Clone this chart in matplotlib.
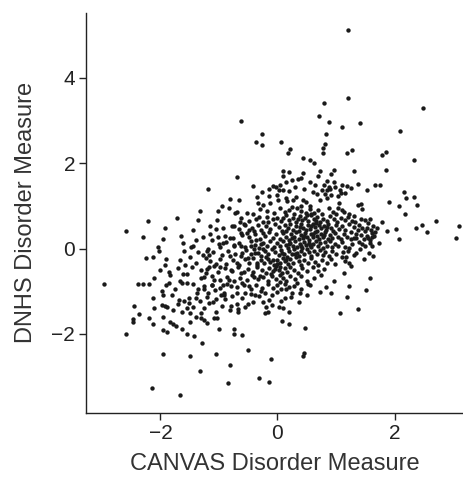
import numpy as np
import matplotlib.pyplot as plt

# CANVAS (x) vs DNHS (y) disorder measures

# sparse points above the main cloud
upper_pts = [
    (1.21, 5.11), (1.20, 3.52), (2.49, 3.29), (0.79, 3.40), (-0.62, 2.99), (0.71, 3.11),
    (0.88, 2.96), (1.41, 2.93), (1.10, 2.85), (-0.26, 2.68), (0.83, 2.68), (2.10, 2.75),
    (-0.37, 2.50), (-0.27, 2.43), (0.06, 2.50), (0.81, 2.46), (0.77, 2.35), (1.28, 2.32),
    (0.21, 2.33), (0.18, 2.24), (1.19, 2.24), (0.78, 2.24), (1.86, 2.25), (1.79, 2.19),
    (0.44, 2.13), (2.34, 2.07), (0.56, 2.07), (0.62, 2.00), (1.86, 1.84), (1.31, 1.82),
    (0.09, 1.82), (0.19, 1.80), (0.43, 1.78), (0.73, 1.82), (0.97, 1.85), (0.92, 1.75),
    (-0.70, 1.67), (0.25, 1.61), (0.35, 1.63), (0.15, 1.55), (1.38, 1.52), (1.66, 1.50),
    (1.75, 1.50), (1.19, 1.47), (-1.18, 1.39), (1.53, 1.36), (2.17, 1.33), (2.20, 1.19),
    (2.34, 1.20), (1.91, 1.08), (2.07, 1.00), (2.38, 1.03), (2.18, 0.80), (2.71, 0.64),
    (3.11, 0.52), (3.05, 0.25), (2.36, 0.49), (2.47, 0.56), (2.55, 0.38), (2.02, 0.45),
    (2.07, 0.22), (1.79, 0.63), (1.87, 0.41), (1.58, 0.14), (1.73, 0.12),
    (-0.15, 1.40), (0.05, 1.50), (0.20, 1.35), (0.30, 1.45), (0.45, 1.40), (0.55, 1.55),
    (0.60, 1.32), (0.85, 1.58), (0.90, 1.40), (1.10, 1.50), (1.15, 1.30), (1.25, 1.42),
    (0.00, 1.25), (-0.35, 1.20), (0.40, 1.65), (0.70, 1.70),
]

# sparse points below the main cloud
lower_pts = [
    (1.56, -0.11), (1.64, -0.17), (1.58, -0.69), (1.52, -0.97), (1.37, -1.41), (1.22, -0.88),
    (1.19, -1.13), (1.23, -0.33), (1.07, -1.52), (0.96, -0.77), (0.92, -1.05), (0.83, -0.91),
    (0.72, -1.02), (0.47, -1.87), (0.46, -2.46), (0.44, -2.52), (0.19, -1.77), (0.07, -1.71),
    (-0.11, -2.58), (-0.14, -3.12), (-0.31, -3.03), (-0.51, -2.39), (-0.60, -2.03),
    (-0.74, -1.89), (-0.74, -2.01), (-0.81, -2.74), (-0.85, -3.15), (-1.05, -2.47),
    (-1.00, -1.89), (-1.33, -2.86), (-1.29, -2.22), (-1.50, -2.51), (-1.42, -2.04),
    (-1.66, -3.44), (-2.14, -3.26), (-1.96, -2.47), (-2.58, -2.00),
]

# left half of the cloud
left_pts = [
    (-2.97, -0.84), (-2.59, 0.42), (-2.46, -1.35), (-2.47, -1.66), (-2.47, -1.72), (-2.37, -1.53),
    (-2.39, -0.83), (-2.29, -0.83), (-2.29, 0.27), (-2.22, 0.64), (-2.25, -0.23), (-2.20, -0.83),
    (-2.19, -1.64), (-2.12, -1.77), (-2.12, -0.19), (-2.11, -0.70), (-2.12, -1.17), (-2.11, -1.39),
    (-2.05, 0.03), (-2.03, -0.05), (-1.93, 0.48), (-1.95, 0.23), (-1.90, -0.25), (-1.93, -0.39),
    (-1.97, -1.00), (-1.96, -1.08), (-1.98, -1.33), (-1.93, -1.35), (-1.89, -1.38), (-1.96, -1.60),
    (-1.95, -1.91), (-1.89, -1.96), (-1.90, -0.85), (-1.83, -1.73), (-1.83, -0.63), (-1.80, -1.10),
    (-1.79, -1.77), (-1.74, -1.82), (-1.71, 0.71), (-1.69, -1.20), (-1.66, -0.28), (-1.66, -0.77),
    (-1.63, -0.81), (-1.62, 0.13), (-1.62, -0.60), (-1.60, -1.24), (-1.64, -1.89), (-1.63, -1.48),
    (-1.58, -0.39), (-1.52, -1.17), (-1.52, -1.27), (-1.49, -1.52), (-1.49, -1.73), (-1.55, -2.00),
    (-1.48, 0.03), (-1.44, 0.44), (-1.44, -0.83), (-1.45, 0.05), (-1.55, -0.81), (-1.46, -0.44),
    (-1.38, -1.05), (-1.36, 0.67), (-1.32, 0.89), (-1.36, -0.08), (-1.32, -1.22), (-1.31, -1.50),
    (-1.30, -1.63), (-1.26, -0.88), (-1.28, 0.28), (-1.22, -0.23), (-1.21, -0.06), (-1.25, -0.66),
    (-1.17, -0.16), (-1.16, 0.52), (-1.17, -0.44), (-1.21, -1.13), (-1.17, -1.28), (-1.25, -1.67),
    (-1.12, 0.20), (-1.09, -0.74), (-1.06, -0.97), (-1.05, -0.36), (-1.04, 0.67), (-1.01, 0.89),
    (-1.01, 0.27), (-0.98, 0.03), (-0.98, -0.44), (-0.97, -1.10), (-1.05, -1.48), (-1.04, -1.64),
    (-1.08, -1.64), (-0.94, 0.99), (-0.93, 0.49), (-0.93, 0.13), (-0.93, -0.86), (-0.91, -1.05),
    (-0.89, -1.19), (-0.82, 0.94), (-0.81, 1.16), (-0.81, 0.25), (-0.81, -0.17), (-0.80, -0.50),
    (-0.83, -0.74), (-0.79, -0.88), (-0.79, -1.35), (-0.81, -1.44), (-0.78, -1.11), (-0.75, 0.05),
    (-0.74, 0.52), (-0.72, 0.83), (-0.70, 0.86), (-0.65, 1.14), (-0.69, -1.05), (-0.69, -0.34),
    (-0.67, -1.42), (-0.68, -1.48), (-0.64, 0.61), (-0.63, 0.36), (-0.63, 0.05), (-0.61, -0.11),
    (-0.62, -0.58), (-0.60, -0.80), (-0.56, -1.05), (-0.58, 0.58), (-0.52, 0.83), (-0.52, 0.36),
    (-0.51, -0.23), (-0.51, -1.30), (-0.48, -0.89), (-0.49, 0.44), (-0.46, 0.05), (-0.42, 1.46),
    (-0.41, 0.80), (-0.40, -0.67), (-0.41, -1.25), (-0.39, -1.08), (-0.36, 0.20), (-0.38, -0.11),
    (-0.35, -0.34), (-0.34, 1.06), (-0.32, 0.75), (-0.30, -0.64), (-0.28, -0.99), (-0.26, 1.33),
    (-0.24, 1.02), (-0.24, 0.36), (-0.24, 0.00), (-0.22, -1.52), (-0.21, -1.05), (-0.19, -1.36),
    (-0.17, -1.49), (-0.16, 0.63), (-0.15, -1.20), (-0.14, 1.22), (-0.13, 1.06), (-0.11, -0.59),
    (-0.09, -1.33), (-0.08, 1.46), (-0.03, 1.44), (-0.06, 0.83),
    (-1.85, -0.55), (-1.75, -0.95), (-1.70, -0.45), (-1.55, -0.60), (-1.50, -0.20), (-1.40, -0.35),
    (-1.35, -0.95), (-1.28, -0.15), (-1.22, -0.58), (-1.18, 0.00), (-1.12, -0.85), (-1.08, -0.40),
    (-1.60, -0.05), (-1.78, -1.45), (-1.55, -1.40), (-1.40, -1.60), (-1.25, -1.40), (-1.20, -1.75),
    (-1.85, -0.80), (-2.00, -0.50), (-1.65, 0.30), (-1.40, 0.20), (-1.30, -0.50), (-1.15, 0.35),
    (-1.05, 0.45),
]

# right half of the cloud
right_pts = [
    (0.01, 1.13), (0.02, 1.38), (0.02, -1.36), (0.06, -1.24), (0.09, 1.38), (0.10, 1.69),
    (0.14, 1.19), (0.17, 1.11), (0.10, -1.39), (0.15, -0.94), (0.19, -1.49), (0.27, 1.14),
    (0.31, 1.20), (0.23, -1.13), (0.25, -1.05), (0.28, -0.89), (0.33, -0.81), (0.36, -1.25),
    (0.38, -1.05), (0.41, 0.99), (0.44, 1.14), (0.48, 1.10), (0.50, -1.10), (0.55, -0.86),
    (0.56, 1.00), (0.62, 0.83), (0.64, 1.50), (0.67, 1.28), (0.73, 1.14), (0.76, 1.36),
    (0.80, 1.49), (0.82, 1.28), (0.84, 1.19), (0.85, 1.36), (0.88, 1.45), (0.91, 1.26),
    (0.96, 1.55), (0.99, 1.44), (1.03, 1.22), (1.05, 1.06), (1.07, 1.38), (1.08, 1.31),
    (1.11, 0.91), (1.13, 0.86), (1.23, 0.81), (1.30, 0.77), (1.37, 1.03), (1.42, 1.05),
    (1.45, 0.92), (1.49, 0.67), (1.58, 0.69), (1.53, 0.47), (1.64, 0.52), (1.61, 0.36),
    (1.53, 0.30), (1.47, 0.23), (1.50, 0.05), (1.62, 0.26), (1.38, 0.44), (1.34, 0.33),
    (1.26, 0.23), (1.23, 0.02), (1.31, -0.16), (1.41, 0.00), (1.17, -0.19), (1.10, -0.20),
    (0.99, -0.36), (1.13, -0.58),
    (1.20, -0.05), (1.30, 0.25), (1.35, -0.10), (1.45, 0.10), (1.50, 0.40), (1.55, 0.60),
    (1.62, 0.05), (1.65, 0.30), (1.70, 0.48), (1.48, -0.25), (1.25, -0.40), (1.15, -0.30),
    (1.40, 0.55), (1.58, 0.20), (1.33, 0.62),
]

# dense centre of the cloud, band by band from top to bottom
core_pts = [
    (-0.30, 0.92), (-0.18, 0.88), (0.05, 0.95), (0.12, 0.85), (0.20, 0.90), (0.28, 0.82),
    (0.33, 0.95), (0.40, 0.88), (0.48, 0.84), (0.55, 0.92), (0.70, 0.90), (0.76, 0.82),
    (0.88, 0.96), (0.95, 0.85), (1.00, 0.80), (1.04, 0.94), (0.58, 0.82), (0.25, 0.97),
    (-0.62, 0.72), (-0.48, 0.65), (-0.36, 0.70), (-0.25, 0.62), (-0.18, 0.75), (-0.08, 0.68),
    (0.00, 0.72), (0.06, 0.64), (0.14, 0.78), (0.20, 0.66), (0.26, 0.72), (0.32, 0.62),
    (0.38, 0.76), (0.42, 0.66), (0.47, 0.72), (0.52, 0.64), (0.57, 0.78), (0.62, 0.68),
    (0.68, 0.74), (0.72, 0.62), (0.78, 0.70), (0.84, 0.65), (0.90, 0.76), (0.96, 0.68),
    (1.02, 0.62), (1.08, 0.72), (1.15, 0.66), (1.20, 0.74), (1.27, 0.64), (1.42, 0.70),
    (0.10, 0.71), (0.35, 0.69), (0.65, 0.65), (0.50, 0.79),
    (-0.78, 0.52), (-0.66, 0.45), (-0.55, 0.55), (-0.44, 0.48), (-0.33, 0.56), (-0.28, 0.44),
    (-0.20, 0.52), (-0.12, 0.46), (-0.05, 0.58), (0.02, 0.50), (0.08, 0.42), (0.12, 0.55),
    (0.18, 0.47), (0.22, 0.58), (0.27, 0.44), (0.31, 0.52), (0.36, 0.41), (0.40, 0.57),
    (0.44, 0.48), (0.48, 0.43), (0.52, 0.55), (0.56, 0.46), (0.60, 0.58), (0.64, 0.50),
    (0.68, 0.42), (0.71, 0.56), (0.75, 0.47), (0.79, 0.53), (0.83, 0.44), (0.87, 0.58),
    (0.91, 0.49), (0.95, 0.42), (1.00, 0.55), (1.05, 0.46), (1.10, 0.52), (1.16, 0.44),
    (1.22, 0.57), (1.30, 0.50), (1.45, 0.48), (1.60, 0.44), (0.38, 0.50), (0.58, 0.52),
    (0.66, 0.59), (0.85, 0.51), (0.15, 0.40), (-0.40, 0.40),
    (-0.90, 0.30), (-0.76, 0.24), (-0.60, 0.32), (-0.48, 0.26), (-0.38, 0.35), (-0.30, 0.22),
    (-0.22, 0.30), (-0.15, 0.38), (-0.08, 0.25), (-0.02, 0.33), (0.04, 0.22), (0.09, 0.36),
    (0.14, 0.28), (0.19, 0.21), (0.23, 0.34), (0.28, 0.26), (0.32, 0.38), (0.36, 0.22),
    (0.40, 0.31), (0.43, 0.24), (0.47, 0.37), (0.50, 0.28), (0.54, 0.21), (0.57, 0.34),
    (0.61, 0.26), (0.64, 0.38), (0.68, 0.30), (0.71, 0.22), (0.74, 0.35), (0.78, 0.27),
    (0.82, 0.39), (0.86, 0.23), (0.90, 0.32), (0.94, 0.25), (0.98, 0.37), (1.03, 0.28),
    (1.08, 0.22), (1.13, 0.35), (1.19, 0.27), (1.25, 0.38), (1.35, 0.24), (1.42, 0.32),
    (1.55, 0.25), (1.67, 0.38), (0.45, 0.30), (0.60, 0.35), (0.25, 0.24), (0.80, 0.31),
    (-1.00, 0.10), (-0.88, 0.16), (-0.75, 0.08), (-0.66, 0.14), (-0.55, 0.04), (-0.45, 0.17),
    (-0.38, 0.09), (-0.31, 0.02), (-0.24, 0.14), (-0.18, 0.06), (-0.12, 0.18), (-0.06, 0.03),
    (0.00, 0.12), (0.05, 0.05), (0.10, 0.17), (0.14, 0.08), (0.18, 0.01), (0.22, 0.13),
    (0.26, 0.06), (0.30, 0.18), (0.34, 0.04), (0.38, 0.11), (0.42, 0.02), (0.45, 0.16),
    (0.49, 0.08), (0.53, 0.14), (0.57, 0.03), (0.61, 0.10), (0.65, 0.18), (0.69, 0.05),
    (0.73, 0.12), (0.77, 0.02), (0.81, 0.15), (0.85, 0.07), (0.89, 0.17), (0.93, 0.04),
    (0.98, 0.11), (1.04, 0.06), (1.10, 0.15), (1.16, 0.03), (1.28, 0.10), (1.40, 0.16),
    (0.40, 0.07), (0.20, 0.10), (0.55, 0.09), (-0.28, 0.10),
    (-1.10, -0.08), (-0.95, -0.15), (-0.85, -0.05), (-0.72, -0.12), (-0.62, -0.18), (-0.54, -0.04),
    (-0.46, -0.14), (-0.40, -0.02), (-0.34, -0.10), (-0.28, -0.17), (-0.22, -0.06), (-0.16, -0.13),
    (-0.10, -0.01), (-0.04, -0.09), (0.02, -0.16), (0.06, -0.04), (0.11, -0.12), (0.16, -0.19),
    (0.20, -0.07), (0.24, -0.14), (0.29, -0.02), (0.33, -0.10), (0.37, -0.18), (0.41, -0.05),
    (0.45, -0.13), (0.50, -0.01), (0.54, -0.09), (0.58, -0.17), (0.62, -0.06), (0.67, -0.12),
    (0.72, -0.03), (0.77, -0.15), (0.82, -0.08), (0.88, -0.18), (0.94, -0.05), (1.00, -0.12),
    (1.12, -0.08), (-0.20, -0.19), (0.08, -0.10), (0.30, -0.12),
    (-1.15, -0.30), (-0.98, -0.25), (-0.88, -0.36), (-0.76, -0.28), (-0.65, -0.38), (-0.56, -0.24),
    (-0.48, -0.33), (-0.41, -0.22), (-0.35, -0.39), (-0.29, -0.27), (-0.23, -0.35), (-0.17, -0.24),
    (-0.12, -0.31), (-0.06, -0.38), (-0.01, -0.26), (0.04, -0.34), (0.09, -0.22), (0.13, -0.30),
    (0.18, -0.37), (0.22, -0.25), (0.27, -0.33), (0.32, -0.21), (0.36, -0.29), (0.41, -0.38),
    (0.46, -0.26), (0.52, -0.34), (0.58, -0.23), (0.64, -0.31), (0.70, -0.39), (0.76, -0.27),
    (0.84, -0.35), (0.92, -0.24), (-0.08, -0.28), (0.00, -0.36), (0.15, -0.27),
    (-1.20, -0.48), (-1.02, -0.55), (-0.90, -0.45), (-0.78, -0.52), (-0.68, -0.44), (-0.58, -0.56),
    (-0.50, -0.47), (-0.42, -0.54), (-0.35, -0.43), (-0.27, -0.51), (-0.20, -0.58), (-0.14, -0.45),
    (-0.08, -0.53), (-0.02, -0.42), (0.03, -0.50), (0.08, -0.57), (0.12, -0.46), (0.17, -0.54),
    (0.22, -0.43), (0.28, -0.51), (0.35, -0.58), (0.42, -0.46), (0.50, -0.53), (0.60, -0.44),
    (0.70, -0.52), (0.80, -0.47), (-0.05, -0.48), (0.05, -0.44),
    (-1.30, -0.70), (-1.12, -0.64), (-0.98, -0.74), (-0.86, -0.66), (-0.74, -0.77), (-0.64, -0.68),
    (-0.52, -0.74), (-0.44, -0.63), (-0.34, -0.72), (-0.24, -0.66), (-0.16, -0.76), (-0.09, -0.65),
    (-0.02, -0.72), (0.04, -0.62), (0.10, -0.69), (0.15, -0.77), (0.22, -0.65), (0.30, -0.72),
    (0.40, -0.64), (0.50, -0.75), (0.62, -0.68), (0.75, -0.63), (0.05, -0.78),
    (-1.25, -0.95), (-1.12, -0.85), (-0.98, -0.92), (-0.86, -0.82), (-0.70, -0.90), (-0.58, -0.85),
    (-0.46, -0.96), (-0.36, -0.86), (-0.26, -0.93), (-0.16, -0.84), (-0.08, -0.92), (0.00, -0.86),
    (0.06, -0.95), (0.12, -0.83), (0.20, -0.91), (0.40, -0.94), (0.52, -0.84),
    (-1.40, -1.15), (-1.18, -1.05), (-1.05, -1.18), (-0.92, -1.08), (-0.60, -1.15), (-0.45, -1.06),
    (-0.32, -1.12), (-0.10, -1.10), (0.00, -1.02), (0.12, -1.16),
    (-1.70, -1.30), (-1.45, -1.38), (-1.10, -1.25), (-0.95, -1.35), (-0.70, -1.30), (-0.55, -1.38),
    (-0.25, -1.26),
]

all_pts = np.array(upper_pts + lower_pts + left_pts + right_pts + core_pts)
canvas = all_pts[:, 0]
dnhs = all_pts[:, 1]

plt.rcParams['font.family'] = ['Liberation Sans', 'DejaVu Sans']

fig = plt.figure(figsize=(4.63, 4.80), dpi=100)
ax = fig.add_axes([0.186, 0.140, 0.814, 0.833])

ax.scatter(canvas, dnhs, s=10, color='#1a1a1a', linewidths=0)

ax.set_xlim(-3.27, 3.17)
ax.set_ylim(-3.85, 5.52)
ax.set_xticks([-2, 0, 2])
ax.set_yticks([-2, 0, 2, 4])
ax.set_xticklabels(['\u22122', '0', '2'])
ax.set_yticklabels(['\u22122', '0', '2', '4'])

for side in ['top', 'right']:
    ax.spines[side].set_visible(False)
for side in ['left', 'bottom']:
    ax.spines[side].set_linewidth(1.0)
    ax.spines[side].set_color('#222222')

ax.tick_params(axis='both', direction='out', length=5, width=1.0, colors='#222222',
               labelsize=15, pad=3)
ax.set_xlabel('CANVAS Disorder Measure', fontsize=17, color='#333333', labelpad=7)
ax.set_ylabel('DNHS Disorder Measure', fontsize=17, color='#333333', labelpad=10)

plt.savefig('out.png', dpi=100)
